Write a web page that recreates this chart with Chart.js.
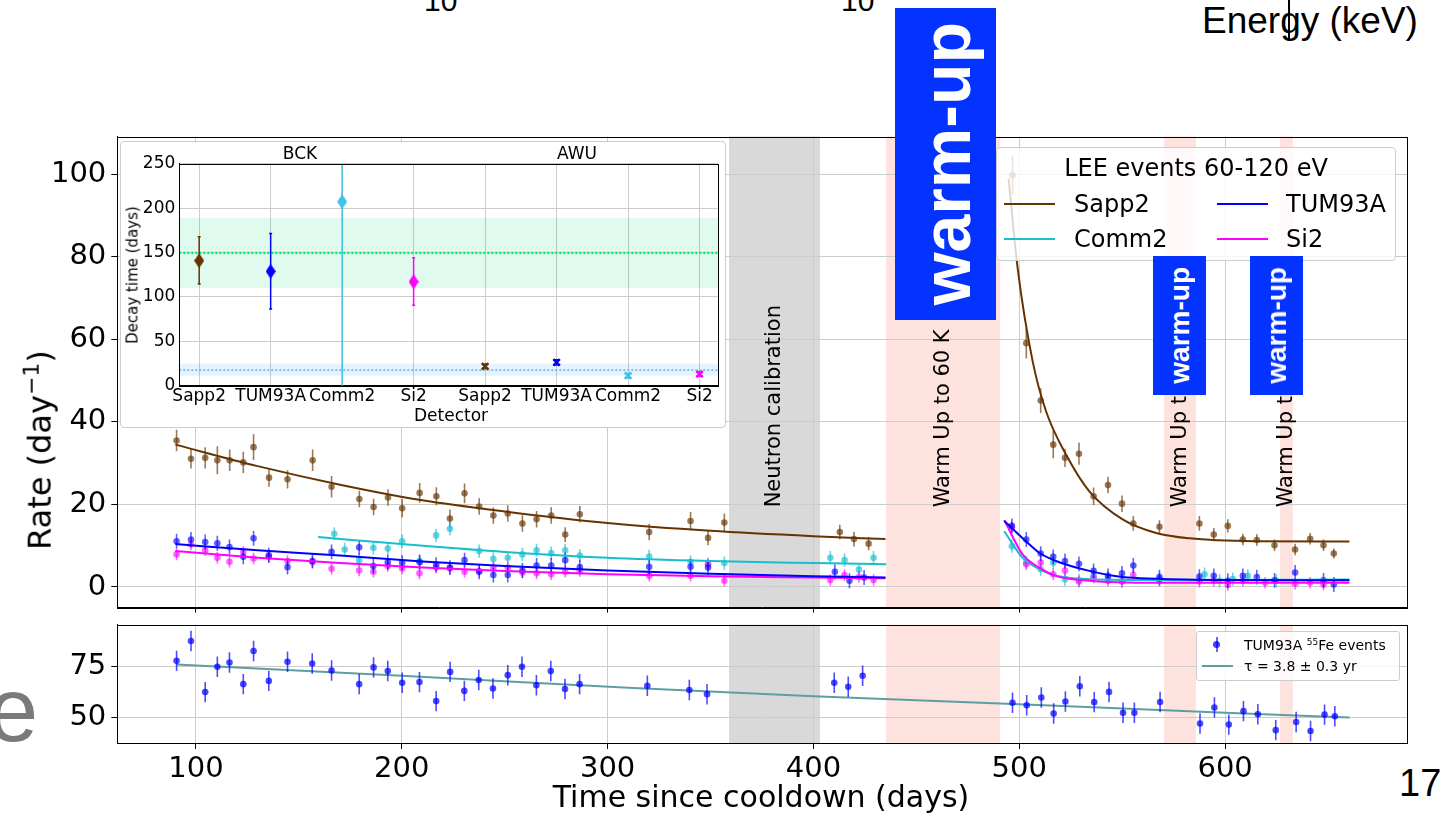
<!DOCTYPE html>
<html>
<head>
<meta charset="utf-8">
<script src="https://cdn.jsdelivr.net/npm/chart.js@4.4.1/dist/chart.umd.min.js"></script>
<style>
  html, body { margin: 0; padding: 0; background: #fff; }
  body { position: relative; width: 1449px; height: 813px; overflow: hidden; font-family: 'DejaVu Sans', sans-serif; }
  canvas { position: absolute; }
  .t { position: absolute; white-space: nowrap; line-height: 1; color: #000; }
  .c { transform: translate(-50%, -50%); }
  .rot { transform: translate(-50%, -50%) rotate(-90deg); }
  .slide { font-family: 'Liberation Sans', Arial, sans-serif; }
  .wu { position: absolute; background: #0433ff; color: #fff; font-family: 'Liberation Sans', Arial, sans-serif; font-weight: bold;
        display: flex; align-items: center; justify-content: center; z-index: 10; }
  .wu span { writing-mode: vertical-rl; transform: rotate(180deg); line-height: 1; }
  .box { position: absolute; box-sizing: border-box; border: 1px solid #cccccc; border-radius: 4px; }
  .sw { position: absolute; height: 2px; }
</style>
</head>
<body>

<!-- leftovers of the slide around the figure -->
<div class="t slide" style="left:424px;top:-14px;font-size:30px">10</div>
<div class="t slide" style="left:841px;top:-14px;font-size:30px">10</div>
<div class="t slide" style="left:1202px;top:2px;font-size:37px">Energy (keV)</div>
<div style="position:absolute;left:1288px;top:0;width:1.5px;height:40px;background:#000"></div>
<div class="t slide" style="left:-12px;top:665px;font-size:90px;color:#7a7a7a">e</div>
<div class="t slide" style="left:1399px;top:764px;font-size:38px">17</div>

<canvas id="mainChart" width="1430" height="530" style="left:0;top:100px"></canvas>
<canvas id="feChart" width="1430" height="213" style="left:0;top:600px"></canvas>

<!-- axis titles -->
<div class="t rot" style="left:38px;top:450px;font-size:32px">Rate (day<sup style="font-size:22px">&minus;1</sup>)</div>
<div class="t c" style="left:761px;top:797px;font-size:30px">Time since cooldown (days)</div>

<!-- inset -->
<div class="box" style="left:120px;top:141px;width:606px;height:287px;background:#fff"></div>
<canvas id="insetChart" width="606" height="287" style="left:120px;top:141px"></canvas>
<div class="t c" style="left:300px;top:153px;font-size:17px">BCK</div>
<div class="t c" style="left:577px;top:153px;font-size:17px">AWU</div>
<div class="t c" style="left:451px;top:415px;font-size:17px">Detector</div>
<div class="t rot" style="left:133px;top:275px;font-size:15px">Decay time (days)</div>

<!-- legend of the main panel -->
<div class="box" style="left:996px;top:147px;width:400px;height:114px;background:rgba(255,255,255,0.8)">
  <div class="t c" style="left:199px;top:20px;font-size:24px">LEE events 60-120 eV</div>
  <div class="sw" style="left:7px;top:55px;width:51px;background:#663300"></div>
  <div class="t" style="left:77px;top:56px;font-size:24px;transform:translateY(-50%)">Sapp2</div>
  <div class="sw" style="left:220px;top:55px;width:51px;background:#0000ff"></div>
  <div class="t" style="left:289px;top:56px;font-size:24px;transform:translateY(-50%)">TUM93A</div>
  <div class="sw" style="left:7px;top:90px;width:51px;background:#17becf"></div>
  <div class="t" style="left:77px;top:91px;font-size:24px;transform:translateY(-50%)">Comm2</div>
  <div class="sw" style="left:220px;top:90px;width:51px;background:#ff00ff"></div>
  <div class="t" style="left:289px;top:91px;font-size:24px;transform:translateY(-50%)">Si2</div>
</div>

<!-- legend of the 55Fe panel -->
<div class="box" style="left:1196px;top:631px;width:204px;height:50px;background:rgba(255,255,255,0.8);border-radius:3px">
  <div style="position:absolute;left:19px;top:5px;width:1.5px;height:15px;background:rgba(0,0,255,0.6)"></div>
  <div style="position:absolute;left:16px;top:9px;width:7px;height:7px;border-radius:50%;background:rgba(0,0,255,0.75)"></div>
  <div class="t" style="left:47px;top:13px;font-size:14px;transform:translateY(-50%)">TUM93A <sup style="font-size:9px">55</sup>Fe events</div>
  <div class="sw" style="left:5px;top:33px;width:31px;background:#5f9ea0"></div>
  <div class="t" style="left:47px;top:34px;font-size:14px;transform:translateY(-50%)">&tau; = 3.8 &plusmn; 0.3 yr</div>
</div>

<!-- warm-up stickers on top of the figure -->
<div class="wu" style="left:895px;top:8px;width:101px;height:312px;font-size:68px"><span>warm-up</span></div>
<div class="wu" style="left:1153px;top:256px;width:53px;height:139px;font-size:28px"><span>warm-up</span></div>
<div class="wu" style="left:1250px;top:256px;width:53px;height:139px;font-size:28px"><span>warm-up</span></div>

<script>
// ticks
const dayTicks = [100, 200, 300, 400, 500, 600];
const rateTicks = [0, 20, 40, 60, 80, 100];
const feTicks = [50, 75];
const decayTicks = [0, 50, 100, 150, 200, 250];
const detectors = ['Sapp2', 'TUM93A', 'Comm2', 'Si2', 'Sapp2', 'TUM93A', 'Comm2', 'Si2'];

// shaded periods (days since cooldown)
const periodStart = [359, 435.3, 570.4, 626.7];
const periodEnd = [403.2, 490.7, 585.8, 632.9];
const periodLabel = ['Neutron calibration', 'Warm Up to 60 K', 'Warm Up to 60 K', 'Warm Up to 60 K'];

// LEE rates 60-120 eV
const sappDays = [90.6, 97.6, 104.5, 110.4, 116.4, 123.0, 128.0, 135.5, 144.5, 156.7, 165.9, 179.4, 186.3, 193.3, 200.2, 208.7, 216.8, 223.4, 230.5, 237.6,
  244.5, 251.5, 258.6, 265.5, 272.6, 279.4, 286.5, 320.2, 340.3, 348.8, 356.7, 412.8, 419.7, 426.8,
  496.7, 503.4, 510.4, 516.5, 522.2, 529.0, 536.1, 543.1, 549.9, 555.4, 568.1, 587.5, 594.5, 601.3, 608.6, 615.4, 624.0, 634.0, 641.3, 647.8, 652.8];
const sappRate = [35.5, 31.1, 31.3, 30.7, 30.7, 30.2, 33.9, 26.5, 26.1, 30.7, 24.3, 21.3, 19.4, 21.7, 19.1, 22.8, 22.0, 16.6, 22.7, 19.5,
  17.3, 17.8, 15.4, 16.4, 17.3, 12.7, 17.6, 13.3, 16.0, 11.9, 15.6, 13.3, 11.6, 10.5,
  99.8, 59.1, 45.2, 34.5, 31.3, 32.3, 22.0, 24.7, 20.2, 15.4, 14.6, 15.4, 12.7, 14.8, 11.5, 11.4, 10.1, 9.1, 11.7, 10.1, 8.1];
const sappErr = [2.6, 2.4, 2.6, 3.4, 2.6, 2.6, 3.1, 2.2, 2.2, 2.6, 2.6, 2.0, 2.0, 2.0, 2.2, 2.4, 2.2, 2.2, 2.4, 2.0,
  2.0, 2.0, 2.0, 2.0, 2.0, 1.8, 2.0, 2.0, 2.2, 1.8, 2.2, 1.8, 1.8, 1.6,
  4.6, 3.7, 3.0, 3.3, 2.2, 2.7, 2.1, 2.0, 2.0, 1.8, 1.6, 1.8, 1.6, 1.6, 1.4, 1.4, 1.4, 1.4, 1.4, 1.4, 1.2];

const tumDays = [90.6, 97.6, 104.5, 110.4, 116.3, 123.0, 128.0, 135.4, 144.5, 156.6, 165.9, 179.3, 186.2, 193.2, 200.2, 208.7, 216.7, 223.4, 230.5, 237.6,
  244.5, 251.5, 258.6, 265.5, 272.6, 279.4, 286.5, 320.2, 340.3, 348.8, 410.4, 417.5, 424.6,
  496.4, 503.4, 510.4, 516.5, 522.2, 529.0, 536.1, 543.1, 549.9, 555.4, 568.1, 587.5, 594.5, 601.3, 608.6, 615.4, 624.0, 634.0, 647.8, 652.8];
const tumRate = [11.1, 11.5, 10.9, 10.6, 9.7, 7.3, 11.8, 7.7, 4.8, 6.3, 8.5, 9.6, 5.1, 6.0, 5.9, 6.0, 5.4, 4.7, 6.5, 3.7,
  2.9, 2.9, 4.0, 5.2, 5.2, 6.5, 4.8, 4.9, 4.9, 4.7, 3.7, 1.5, 2.3,
  14.8, 11.5, 8.1, 7.3, 6.3, 5.6, 3.9, 2.7, 3.3, 5.2, 2.4, 2.5, 2.7, 1.5, 2.7, 2.4, 1.6, 3.5, 1.6, 0.6];
const tumErr = 1.8;

const commDays = [167.2, 172.3, 179.3, 186.2, 193.2, 200.2, 208.6, 216.7, 223.4, 237.6, 244.5, 251.5, 258.6, 265.5, 272.6, 279.4, 286.5,
  320.2, 340.3, 348.8, 356.7, 408.2, 415.1, 422.1, 429.2,
  496.4, 503.4, 510.4, 516.5, 522.2, 529.0, 536.1, 543.1, 549.9, 568.1, 590.0, 597.3, 603.7, 611.0, 624.8];
const commRate = [12.9, 9.1, 6.5, 9.5, 9.3, 11.1, 6.3, 12.5, 14.1, 8.7, 6.8, 7.1, 7.9, 8.9, 8.2, 8.9, 7.6,
  7.4, 6.1, 5.5, 5.8, 7.1, 6.5, 4.2, 7.1,
  9.9, 6.0, 4.3, 5.9, 1.9, 1.6, 2.7, 2.3, 1.5, 1.9, 3.1, 1.5, 1.9, 2.7, 1.5];
const commErr = 1.6;

const siDays = [90.6, 97.6, 104.5, 110.4, 116.3, 123.0, 128.0, 135.4, 144.5, 156.6, 165.9, 179.3, 186.2, 193.2, 200.2, 208.6, 216.7, 223.4, 230.5, 237.6,
  244.5, 251.5, 258.6, 265.5, 272.6, 279.4, 286.5, 320.2, 340.3, 348.8, 356.7, 408.2, 415.1, 422.1, 429.2,
  496.4, 503.4, 510.4, 516.5, 522.2, 529.0, 536.1, 543.1, 549.9, 555.4, 568.1, 587.5, 594.5, 601.3, 608.6, 619.4, 634.0, 641.3, 647.8];
const siRate = [7.9, 10.3, 8.9, 7.1, 6.1, 8.5, 6.9, 7.3, 6.3, 6.0, 4.4, 4.0, 3.7, 5.1, 4.5, 3.3, 4.7, 4.5, 3.7, 3.9,
  4.7, 4.7, 3.5, 3.3, 3.1, 3.7, 3.9, 2.7, 2.7, 5.5, 1.5, 1.7, 2.9, 2.4, 1.7,
  14.5, 5.5, 5.9, 3.1, 4.0, 1.3, 2.3, 1.5, 1.3, 2.9, 1.5, 1.3, 1.5, 0.5, 1.5, 1.0, 0.8, 1.0, 0.6];
const siErr = 1.4;

// fitted decay curves (before / after the warm-up)
const sappFitDaysA = [90, 130, 170, 210, 250, 300, 350, 400, 435];
const sappFitA = [34.5, 29.3, 24.8, 21.0, 18.3, 15.5, 13.6, 12.3, 11.6];
const sappFitDaysB = [494.8, 499.2, 506.5, 513, 522.7, 534, 550.2, 566.5, 582.7, 615, 660.4];
const sappFitB = [99, 77.3, 54.7, 42.6, 32.1, 23.2, 16.4, 13.1, 11.8, 11.1, 11.0];
const tumFitDaysA = [90, 130, 170, 210, 250, 300, 350, 400, 435];
const tumFitA = [10.4, 8.9, 7.6, 6.2, 5.1, 4.0, 3.2, 2.6, 2.3];
const tumFitDaysB = [492.7, 503.2, 509.7, 517.8, 534, 550.2, 566.5, 598.9, 660.4];
const tumFitB = [16.0, 11.1, 8.3, 6.3, 3.9, 2.4, 2.0, 1.7, 1.6];
const commFitDaysA = [159.4, 200, 250, 300, 350, 400, 435.3];
const commFitA = [12.1, 10.4, 8.5, 7.1, 6.3, 5.8, 5.5];
const commFitDaysB = [492.7, 501.6, 509.7, 517.8, 534, 566.5, 660.4];
const commFitB = [13.5, 7.1, 4.3, 2.7, 1.9, 1.7, 1.8];
const siFitDaysA = [90, 130, 170, 210, 250, 300, 350, 400, 435];
const siFitA = [8.7, 7.1, 5.8, 4.7, 3.9, 3.1, 2.6, 2.3, 2.1];
const siFitDaysB = [492.7, 501.6, 509.7, 517.8, 534, 566.5, 660.4];
const siFitB = [16.2, 7.9, 4.7, 2.7, 1.5, 1.0, 1.0];

// TUM93A 55Fe rate
const feDays = [90.6, 97.6, 104.5, 110.4, 116.3, 123.0, 128.0, 135.4, 144.5, 156.5, 165.9, 179.3, 186.3, 193.2, 200.2, 208.6, 216.7, 223.5, 230.4, 237.4,
  244.3, 251.5, 258.4, 265.4, 272.4, 279.3, 286.4, 319.3, 339.7, 348.3, 410.1, 416.9, 423.9,
  496.7, 503.6, 510.7, 516.7, 522.4, 529.4, 536.4, 543.6, 550.4, 555.9, 568.4, 587.8, 594.8, 601.8, 608.9, 615.9, 624.6, 634.5, 641.5, 648.3, 653.3];
const feRate = [77.9, 87.6, 62.6, 75.0, 77.1, 66.5, 82.7, 68.1, 77.5, 76.6, 73.2, 66.5, 74.7, 72.9, 67.2, 67.5, 58.2, 72.5, 63.2, 68.5,
  64.4, 70.9, 75.0, 66.0, 72.9, 64.1, 66.5, 65.7, 63.6, 61.6, 67.2, 65.2, 70.6,
  57.4, 56.2, 60.0, 52.1, 58.0, 65.5, 57.7, 62.7, 52.5, 52.5, 57.8, 47.2, 55.1, 46.7, 53.3, 51.8, 44.0, 48.0, 43.6, 51.6, 50.8];
const feErr = 5;
const feFitDays = [90.6, 200, 310, 400, 500, 600, 660.5];
const feFit = [76.1, 70.6, 64.7, 60.6, 56.7, 52.5, 50.2];

// inset: decay times per detector
const bckTau = [140.8, 128.8, 207.2, 117.1];
const bckLow = [114.5, 86.3, -20, 90.5];
const bckHigh = [167.8, 171.5, 300, 144.1];
const awuTau = [21.8, 26.3, 11.3, 13.1];
const awuErr = [2.5, 3.0, 2.5, 2.5];
const bckBand = [110, 189];
const bckMean = 149.5;
const awuBand = [11.3, 24.8];
const awuMean = 17.6;

const detColor = { Sapp2: '#663300', TUM93A: '#0000ff', Comm2: '#3fc3e6', Si2: '#ff00ff' };
const periodFill = { 'Neutron calibration': '#d9d9d9', 'Warm Up to 60 K': '#fde2de' };

Chart.defaults.font.family = "'DejaVu Sans', sans-serif";
Chart.defaults.color = '#000';

const pts = (xs, ys) => xs.map((x, i) => ({ x: x, y: ys[i] }));
const fixTicks = list => s => { s.ticks = list.map(v => ({ value: v })); };

// shaded periods behind the grid
const shadePlugin = {
  id: 'shade',
  beforeDraw(chart) {
    const { ctx, chartArea: a, scales: { x } } = chart;
    ctx.save();
    periodLabel.forEach((lab, i) => {
      const x0 = x.getPixelForValue(periodStart[i]);
      const x1 = x.getPixelForValue(periodEnd[i]);
      ctx.fillStyle = periodFill[lab];
      ctx.fillRect(x0, a.top, x1 - x0, a.bottom - a.top);
    });
    ctx.restore();
  }
};

// rotated labels of the periods
const periodTextPlugin = {
  id: 'periodText',
  afterDatasetsDraw(chart) {
    const { ctx, scales: { x, y } } = chart;
    ctx.save();
    ctx.font = "21px 'DejaVu Sans'";
    ctx.fillStyle = '#000';
    ctx.textAlign = 'left';
    ctx.textBaseline = 'middle';
    periodLabel.forEach((lab, i) => {
      ctx.save();
      ctx.translate(x.getPixelForValue((periodStart[i] + periodEnd[i]) / 2), y.getPixelForValue(19.3));
      ctx.rotate(-Math.PI / 2);
      ctx.fillText(lab, 0, 0);
      ctx.restore();
    });
    ctx.restore();
  }
};

// vertical error bars under the markers
const errPlugin = {
  id: 'errbars',
  beforeDatasetDraw(chart, args) {
    const ds = chart.data.datasets[args.index];
    if (ds.yErr === undefined && !ds.yLow) return;
    const { ctx, chartArea: a } = chart;
    const y = chart.scales[args.meta.yAxisID];
    ctx.save();
    ctx.beginPath();
    ctx.rect(a.left, a.top, a.right - a.left, a.bottom - a.top);
    ctx.clip();
    ctx.lineWidth = ds.errWidth || 1.5;
    args.meta.data.forEach((el, i) => {
      const v = ds.data[i].y;
      let lo, hi;
      if (ds.yLow) { lo = ds.yLow[i]; hi = ds.yHigh[i]; }
      else { const e = Array.isArray(ds.yErr) ? ds.yErr[i] : ds.yErr; lo = v - e; hi = v + e; }
      const c = Array.isArray(ds.errColor) ? ds.errColor[i] : ds.errColor;
      const py0 = y.getPixelForValue(lo), py1 = y.getPixelForValue(hi);
      ctx.strokeStyle = c;
      ctx.beginPath();
      ctx.moveTo(el.x, py0);
      ctx.lineTo(el.x, py1);
      if (ds.capWidth) {
        ctx.moveTo(el.x - ds.capWidth, py0); ctx.lineTo(el.x + ds.capWidth, py0);
        ctx.moveTo(el.x - ds.capWidth, py1); ctx.lineTo(el.x + ds.capWidth, py1);
      }
      ctx.stroke();
    });
    ctx.restore();
  }
};

// full frame around the axes
const framePlugin = {
  id: 'frame',
  afterDraw(chart) {
    const { ctx, chartArea: a } = chart;
    ctx.save();
    ctx.strokeStyle = '#000';
    ctx.lineWidth = 1;
    ctx.strokeRect(Math.round(a.left) + 0.5, Math.round(a.top) + 0.5, Math.round(a.right - a.left), Math.round(a.bottom - a.top));
    ctx.restore();
  }
};

// bands of the mean decay times in the inset
const bandPlugin = {
  id: 'bands',
  beforeDatasetsDraw(chart) {
    const { ctx, chartArea: a, scales: { y } } = chart;
    const band = (r, mean, fill, line, w) => {
      const t = y.getPixelForValue(r[1]), b = y.getPixelForValue(r[0]);
      ctx.fillStyle = fill;
      ctx.fillRect(a.left, t, a.right - a.left, b - t);
      ctx.strokeStyle = line;
      ctx.lineWidth = w;
      ctx.setLineDash([2, 2]);
      ctx.beginPath();
      ctx.moveTo(a.left, y.getPixelForValue(mean));
      ctx.lineTo(a.right, y.getPixelForValue(mean));
      ctx.stroke();
    };
    ctx.save();
    band(bckBand, bckMean, 'rgba(0,225,110,0.12)', '#00ee77', 2.5);
    band(awuBand, awuMean, 'rgba(90,170,235,0.15)', '#5ab4ee', 1.5);
    ctx.restore();
  }
};

const gridX = { color: '#cccccc', tickColor: '#000', tickLength: 6 };
const tickFont = { family: "'DejaVu Sans'", size: 29 };

const fitLine = (days, vals, color) => ({
  data: pts(days, vals), borderColor: color, borderWidth: 2, pointRadius: 0,
  cubicInterpolationMode: 'monotone', fill: false
});
const dots = (days, vals, color, err) => ({
  data: pts(days, vals), showLine: false, pointRadius: 3.3, pointBackgroundColor: color,
  pointBorderWidth: 0, yErr: err, errColor: color, errWidth: 1.6
});

new Chart(document.getElementById('mainChart'), {
  type: 'line',
  data: {
    datasets: [
      fitLine(sappFitDaysA, sappFitA, '#663300'),
      fitLine(sappFitDaysB, sappFitB, '#663300'),
      fitLine(tumFitDaysA, tumFitA, '#0000ff'),
      fitLine(tumFitDaysB, tumFitB, '#0000ff'),
      fitLine(siFitDaysA, siFitA, '#ff00ff'),
      fitLine(siFitDaysB, siFitB, '#ff00ff'),
      fitLine(commFitDaysA, commFitA, '#17becf'),
      fitLine(commFitDaysB, commFitB, '#17becf'),
      dots(tumDays, tumRate, 'rgba(0,0,255,0.62)', tumErr),
      dots(siDays, siRate, 'rgba(255,0,255,0.6)', siErr),
      dots(commDays, commRate, 'rgba(23,190,207,0.65)', commErr),
      dots(sappDays, sappRate, 'rgba(102,51,0,0.65)', sappErr)
    ]
  },
  options: {
    responsive: false, animation: false, devicePixelRatio: 1,
    layout: { padding: { left: 0, right: 22.5, top: 36.5, bottom: 0 } },
    plugins: { legend: { display: false }, tooltip: { enabled: false } },
    scales: {
      x: {
        type: 'linear', min: 61.8, max: 688.6,
        afterBuildTicks: fixTicks(dayTicks),
        afterFit: s => { s.height = 19.3; },
        ticks: { display: false },
        grid: { color: '#cccccc', tickColor: '#000', tickLength: 5 },
        border: { color: '#000' }
      },
      y: {
        min: -5, max: 109.2,
        afterBuildTicks: fixTicks(rateTicks),
        afterFit: s => { s.width = 117.3; },
        ticks: { font: tickFont, padding: 5 },
        grid: gridX,
        border: { color: '#000' }
      }
    }
  },
  plugins: [shadePlugin, errPlugin, periodTextPlugin, framePlugin]
});

new Chart(document.getElementById('feChart'), {
  type: 'line',
  data: {
    datasets: [
      dots(feDays, feRate, 'rgba(0,0,255,0.7)', feErr),
      fitLine(feFitDays, feFit, '#5f9ea0')
    ]
  },
  options: {
    responsive: false, animation: false, devicePixelRatio: 1,
    layout: { padding: { left: 0, right: 22.5, top: 24.7, bottom: 0 } },
    plugins: { legend: { display: false }, tooltip: { enabled: false } },
    scales: {
      x: {
        type: 'linear', min: 61.8, max: 688.6,
        afterBuildTicks: fixTicks(dayTicks),
        afterFit: s => { s.height = 70; },
        ticks: { font: tickFont, padding: 3, maxRotation: 0, autoSkip: false },
        grid: gridX,
        border: { color: '#000' }
      },
      y: {
        min: 37.7, max: 95.6,
        afterBuildTicks: fixTicks(feTicks),
        afterFit: s => { s.width = 117.3; },
        ticks: { font: tickFont, padding: 5 },
        grid: gridX,
        border: { color: '#000' }
      }
    }
  },
  plugins: [shadePlugin, errPlugin, framePlugin]
});

// thin diamond marker of the BCK fits
function thinDiamond(color) {
  const c = document.createElement('canvas');
  c.width = 10; c.height = 15;
  const g = c.getContext('2d');
  g.fillStyle = color;
  g.beginPath();
  g.moveTo(5, 0); g.lineTo(10, 7.5); g.lineTo(5, 15); g.lineTo(0, 7.5);
  g.closePath();
  g.fill();
  return c;
}

const bckNames = detectors.slice(0, 4);
const awuNames = detectors.slice(4);
const bckColors = bckNames.map(n => detColor[n]);
const awuColors = awuNames.map(n => detColor[n]);

new Chart(document.getElementById('insetChart'), {
  type: 'line',
  data: {
    datasets: [
      {
        data: pts([0, 1, 2, 3], bckTau), showLine: false,
        pointStyle: bckColors.map(thinDiamond), pointRadius: 7,
        yLow: bckLow, yHigh: bckHigh, errColor: bckColors, errWidth: 1.5, capWidth: 1.5
      },
      {
        data: pts([4, 5, 6, 7], awuTau), showLine: false,
        pointStyle: 'crossRot', pointRadius: 4.5, pointBorderColor: awuColors, pointBorderWidth: 2.5,
        yErr: awuErr, errColor: awuColors, errWidth: 1.5, capWidth: 3.5
      }
    ]
  },
  options: {
    responsive: false, animation: false, devicePixelRatio: 1,
    layout: { padding: { left: 0, right: 4.1, top: 22.7, bottom: 0 } },
    plugins: { legend: { display: false }, tooltip: { enabled: false } },
    scales: {
      x: {
        type: 'linear', min: -0.278, max: 7.258,
        afterBuildTicks: fixTicks(detectors.map((d, i) => i)),
        afterFit: s => { s.height = 42.3; },
        ticks: { font: { size: 17 }, padding: 1, maxRotation: 0, autoSkip: false, callback: v => detectors[v] },
        grid: { color: '#cccccc', drawTicks: false },
        border: { color: '#000' }
      },
      y: {
        min: 0, max: 250,
        afterBuildTicks: fixTicks(decayTicks),
        afterFit: s => { s.width = 59.3; },
        ticks: { font: { size: 17 }, padding: 4 },
        grid: { color: '#cccccc', drawTicks: false },
        border: { color: '#000' }
      }
    }
  },
  plugins: [bandPlugin, errPlugin, framePlugin]
});
</script>
</body>
</html>
